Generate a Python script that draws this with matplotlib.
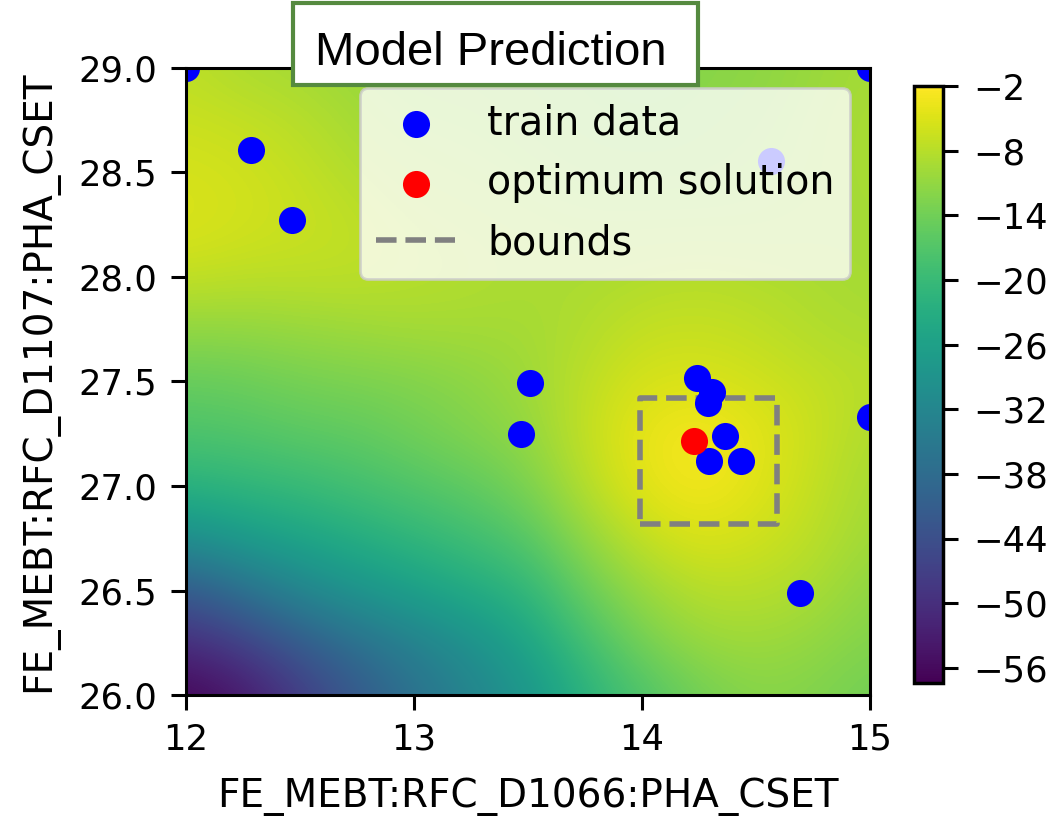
import numpy as np
import matplotlib.pyplot as plt
from matplotlib.patches import Rectangle

# grid of the predicted surface (rows: y from 26.0 up to 29.0)
grid_x = [12.0, 12.25, 12.5, 12.75, 13.0, 13.25, 13.5, 13.75, 14.0, 14.25, 14.5, 14.75, 15.0]
grid_y = [26.0, 26.25, 26.5, 26.75, 27.0, 27.25, 27.5, 27.75, 28.0, 28.25, 28.5, 28.75, 29.0]
surface = [
    [-57, -54, -48, -42, -37, -32.5, -28.5, -22, -17.5, -14, -12, -12.5, -14],
    [-50.5, -47, -41.5, -37, -33, -29.5, -25, -18.5, -13.5, -10.5, -10, -11, -12.5],
    [-42, -37, -32, -28.5, -26, -23.5, -21, -14.5, -10.5, -8, -8, -9, -11.5],
    [-30, -27, -25, -23, -21, -19, -16.5, -11, -7, -5, -6, -7.7, -10],
    [-22, -21, -20, -18.5, -17, -15.5, -13, -8, -4.2, -2.8, -4.5, -7, -9.5],
    [-17.5, -17, -16, -15.5, -14, -12.5, -11, -7, -3.8, -2.6, -4.2, -6.5, -8.8],
    [-15, -14.5, -13.5, -13, -12.5, -11.5, -10, -7.5, -5.5, -5, -6, -7, -8],
    [-11, -11, -10.5, -10, -9.5, -9.5, -9.5, -8.5, -7, -6.8, -7.3, -8.5, -9],
    [-7, -7.5, -7.5, -7.5, -8, -8.5, -9, -9, -8.5, -8, -8.5, -9, -9.5],
    [-5, -5.8, -6.5, -7.3, -8.5, -9, -9.5, -10, -10, -10, -10, -9.5, -9.5],
    [-5.5, -6, -7, -8.5, -9.5, -10, -10.5, -11, -11, -11, -10.5, -10, -9],
    [-6.5, -7, -8, -9.5, -10.5, -10.5, -11, -11.5, -12, -11.5, -11, -10, -9],
    [-7.5, -9, -9.5, -10.5, -11, -11, -11.5, -12, -12.5, -12, -11.5, -10.5, -9.5],
]

train_x = [12.0, 15.0, 12.287, 12.465, 13.509, 13.469, 14.24, 14.306, 14.291,
           14.365, 14.292, 14.436, 14.693, 15.0, 14.564]
train_y = [29.0, 29.0, 28.606, 28.271, 27.493, 27.249, 27.515, 27.451, 27.396,
           27.239, 27.12, 27.12, 26.487, 27.33, 28.554]
opt_x = [14.229]
opt_y = [27.217]
bound_x = [13.99, 14.59]
bound_y = [26.82, 27.42]
cbar_ticks = [-56, -50, -44, -38, -32, -26, -20, -14, -8, -2]

fig = plt.figure(figsize=(10.61, 8.17), dpi=100)
ax = fig.add_axes([0.1753, 0.1493, 0.6447, 0.7675])
cax = fig.add_axes([0.8614, 0.1640, 0.0273, 0.7307])

dx = grid_x[1] - grid_x[0]
dy = grid_y[1] - grid_y[0]
im = ax.imshow(np.array(surface), origin="lower", cmap="viridis", aspect="auto",
               interpolation="bicubic", vmin=-57.4, vmax=-2,
               extent=[grid_x[0] - dx / 2, grid_x[-1] + dx / 2,
                       grid_y[0] - dy / 2, grid_y[-1] + dy / 2])

bx = [bound_x[0], bound_x[1], bound_x[1], bound_x[0], bound_x[0]]
by = [bound_y[0], bound_y[0], bound_y[1], bound_y[1], bound_y[0]]
hb, = ax.plot(bx, by, "--", color="gray", lw=4, zorder=1.5)
ht = ax.scatter(train_x, train_y, s=380, c="blue", linewidths=0, zorder=2)
ho = ax.scatter(opt_x, opt_y, s=380, c="red", linewidths=0, zorder=2.1)

ax.set_xlim(12, 15)
ax.set_ylim(26, 29)
ax.set_xticks([12, 13, 14, 15])
ax.set_yticks(np.arange(26, 29.01, 0.5))
ax.tick_params(labelsize=25.5, length=11, width=2.2)
ax.tick_params(axis="x", pad=9)
ax.tick_params(axis="y", pad=10)
for sp in ax.spines.values():
    sp.set_linewidth(2.2)
ax.set_xlabel("FE_MEBT:RFC_D1066:PHA_CSET", fontsize=28, labelpad=15)
ax.set_ylabel("FE_MEBT:RFC_D1107:PHA_CSET", fontsize=28, labelpad=14)

leg = ax.legend([ht, ho, hb], ["train data", "optimum solution", "bounds"],
                loc="upper right", fontsize=28.5)
leg.get_frame().set_linewidth(2)

cb = fig.colorbar(im, cax=cax, ticks=cbar_ticks)
cb.ax.tick_params(labelsize=25.5, length=11, width=2.2, pad=11)
cb.outline.set_linewidth(2.5)

fig.add_artist(Rectangle((0.2762, 0.896), 0.3817, 0.1004, transform=fig.transFigure,
                         facecolor="white", edgecolor="#558a3f", lw=3, zorder=10))
fig.text(0.4623, 0.9204, "Model Prediction", fontsize=34, family="Liberation Sans",
         ha="center", va="baseline", zorder=11)

fig.savefig("out.png", dpi=100)
